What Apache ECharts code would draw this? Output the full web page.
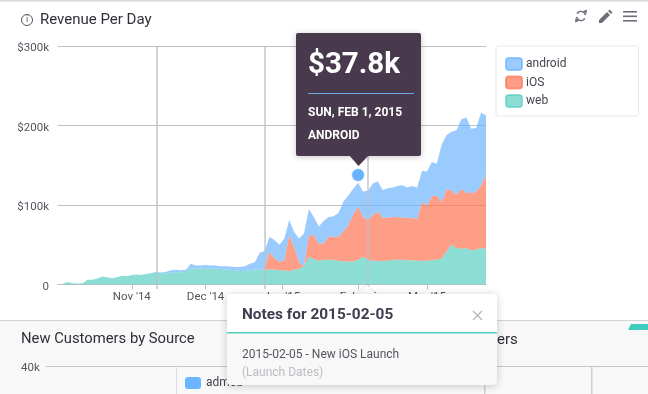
<!DOCTYPE html>
<html><head><meta charset="utf-8">
<style>html,body{margin:0;padding:0;background:#fff;overflow:hidden}#main{width:648px;height:394px}</style>
<script src="https://cdn.jsdelivr.net/npm/echarts@6/dist/echarts.min.js"></script>
</head><body><div id="main"></div>
<script>
// values in $k, one reading every two days from 2014-10-02
const startDate = '2014-10-02';
const web = [0,1,3.3,1.5,1.2,1.5,6,6,7.5,10,9,8,9,11,10.5,12,12.5,12,13,14,15.5,14,14,15,15.5,15,16,20,20,20,20.5,20,20,19.5,19,18.5,18,17,17,18,18.5,19,19,19,19,18,17.5,17,18.5,20,23,35,32,30,31,31,31,30,29,29,29,31,35,31,30,30,29.5,30,31,31,31,30.5,30.5,30,30,30,31,31,33,42,50,46,45,46,43,44,46,45];
const ios = [0,0,0,0,0,0,0,0,0,0,0,0,0,0,0,0,0,0,0,0,0,0,0,0,0,0,0,0,0,0,0,0,0,0,0,0,0,0,0,0,0,0,1,22,14,11,12.5,45,28.5,8,0,27,30,21,21,29,29,30,38,46,59,67,50,50,57,62,54.5,54,54,54,53,53.5,53.5,52,74,69,80,81,71,78,68,67,75,69,72,73,79,92];
const android = [0,0,0,0,0,0,0,0,0,0,0,0,0,0,0,0,0,0,.5,.5,.5,1,2,3,3,3,2.5,6,4,4,4,4,4,3.5,4,4,4,5,6,8,9.5,21,22,19,23,21,28,19,19,30,41,33,23,22,28,25,26,30,37,37,32,30,32,37,40,38,35,37,37,39,41,38,40,40,39,43,43,40,72,68,74,81,88,95,81,80,91,76];
const noteDates = ['2014-11-11','2014-12-25','2015-02-05'];
const monthTicks = ['2014-11-01','2014-12-01','2015-01-01','2015-02-01','2015-03-01'];
const monthLabels = ["Nov '14","Dec '14","Jan '15","Feb '15","Mar '15"];
const hoverPoint = ['2015-02-01', 137.7];
const yMax = 300;

const FONT = 'Roboto, sans-serif';
const C = {android:'#6DB5FF', ios:'#FF7554', web:'#5BD0C3'};
const dates = web.map((_, i) => {
  const d = new Date(startDate + 'T00:00:00'); d.setDate(d.getDate() + i * 2); return d.getTime();
});
const ts = s => new Date(s + 'T00:00:00').getTime();
const tickTimes = monthTicks.map(ts);
const pair = arr => arr.map((v, i) => [dates[i], v]);
const area = (name, color, arr) => ({
  name, type:'line', stack:'rev', data:pair(arr), symbol:'none', silent:true, xAxisIndex:0,
  lineStyle:{width:0}, itemStyle:{color, opacity:.7, borderColor:color, borderWidth:1}, areaStyle:{color, opacity:.7}, z:2
});
const text = (t, x, y, font, fill, extra) => ({type:'text', z:100, silent:true,
  style:Object.assign({text:t, x, y, font:font + ' ' + FONT, fill, verticalAlign:'middle'}, extra||{})});
const rect = (x, y, w, h, fill, r, extra, z) => ({type:'rect', z:z||100, silent:true,
  shape:{x, y, width:w, height:h, r:r||0}, style:Object.assign({fill}, extra||{})});
const ICON = '#6f6f7c';

const series = [
  area('web', C.web, web),
  area('iOS', C.ios, ios),
  area('android', C.android, android),
  {type:'scatter', xAxisIndex:0, data:[[ts(hoverPoint[0]), hoverPoint[1]]], symbolSize:13, silent:true, z:6,
   itemStyle:{color:'#6AB4FF', borderColor:'rgba(255,255,255,.8)', borderWidth:1, opacity:1}},
  {type:'line', xAxisIndex:0, data:[], silent:true, z:5, symbol:'none',
   markLine:{silent:true, symbol:'none', label:{show:false}, animation:false,
     lineStyle:{color:'rgba(185,192,200,.65)', width:2, type:'solid'},
     data:noteDates.map(d => [{xAxis:ts(d), y:46},{xAxis:ts(d), y:289}])}}
];

const chart = echarts.init(document.getElementById('main'));
chart.setOption({
  animation:false,
  backgroundColor:'#fff',
  textStyle:{fontFamily:FONT},
  grid:{left:58, top:46, width:428, height:238.5, containLabel:false},
  legend:{
    data:['android','iOS','web'], orient:'vertical', left:496, top:46,
    padding:[11,72,8,9], itemWidth:16, itemHeight:12, itemGap:4.5,
    icon:'roundRect', borderColor:'#e7e8ec', borderWidth:1, borderRadius:2,
    textStyle:{color:'#444450', fontSize:12, fontFamily:FONT, padding:[3,0,0,-1]},
    selectedMode:false
  },
  xAxis:[
    {type:'time', show:false, min:dates[0], max:dates[dates.length-1]},
    {type:'value', position:'bottom', min:dates[0], max:dates[dates.length-1], scale:true,
     axisLine:{show:true, lineStyle:{color:'#bcc0c5'}},
     axisTick:{show:true, length:5, customValues:tickTimes, lineStyle:{color:'#bcc0c5'}},
     splitLine:{show:false},
     axisLabel:{customValues:tickTimes, color:'#55555f', fontSize:11.5, margin:7, hideOverlap:false,
       formatter:v => monthLabels[tickTimes.indexOf(v)]}}
  ],
  yAxis:{type:'value', min:0, max:yMax, interval:100,
    axisLine:{show:false}, axisTick:{show:false},
    splitLine:{lineStyle:{color:'#bcc0c5', width:1}},
    axisLabel:{color:'#55555f', fontSize:11.5, margin:9, verticalAlign:'top', lineHeight:5,
      formatter:v => v === 0 ? '0' : '$' + v + 'k'}},
  series,
  graphic:[
    // top border
    rect(0,0,648,1.5,'#d5d8df',0,null,1),
    // lower panel
    rect(0,320,648,74,'#f8f8f9',0,null,50),
    rect(0,320,648,1,'#d2d4da',0,null,51),
    rect(46,366,602,1,'#c4c6cb',0,null,51),
    rect(176,366,1,28,'#dcdde1',0,null,51),
    rect(484,366,1.5,28,'#cdd0d6',0,null,51),
    rect(591,366,1.5,28,'#cdd0d6',0,null,51),
    {type:'polygon', z:51, silent:true, shape:{points:[[631,324],[648,324],[648,330],[628,330]]}, style:{fill:'#3fcdbf'}},
    text('New Customers by Source',21,339,'14.8px','#2f2f3a'),
    text('ers',497,340,'15px','#2f2f3a'),
    text('40k',21,368,'11.5px','#55555f'),
    rect(185,377,16,12,'#6cb5ff',3,null,52),
    text('admob',206,383,'12px','#444450',{}),
    // title
    {type:'circle', z:100, silent:true, shape:{cx:27,cy:20,r:5.5}, style:{fill:'none', stroke:'#55555f', lineWidth:1}},
    text('i',27,20,'9px','#55555f',{align:'center'}),
    text('Revenue Per Day',40,20,'15px','#2f2f3a'),
    // toolbar icons
    {type:'arc', z:100, silent:true, shape:{cx:581,cy:16,r:4.5,startAngle:-2.6,endAngle:-0.2}, style:{stroke:ICON, fill:'none', lineWidth:1.6}},
    {type:'arc', z:100, silent:true, shape:{cx:581,cy:16,r:4.5,startAngle:0.55,endAngle:2.95}, style:{stroke:ICON, fill:'none', lineWidth:1.6}},
    {type:'polygon', z:100, silent:true, shape:{points:[[583,11],[587,9.5],[586.5,14]]}, style:{fill:ICON}},
    {type:'polygon', z:100, silent:true, shape:{points:[[579,21],[575,22.5],[575.5,18]]}, style:{fill:ICON}},
    {type:'polygon', z:100, silent:true, shape:{points:[[599,20],[607,12],[610,15],[602,23],[599,23]]}, style:{fill:ICON}},
    {type:'polygon', z:100, silent:true, shape:{points:[[608,11],[609.5,9.5],[612.5,12.5],[611,14]]}, style:{fill:ICON}},
    rect(623,11,14,1.6,ICON), rect(623,15.5,14,1.6,ICON), rect(623,20,14,1.6,ICON),
    // hover tooltip
    rect(296,33,125,123,'#483a4c',2,{shadowBlur:6, shadowColor:'rgba(0,0,0,.22)', shadowOffsetY:1},110),
    {type:'polygon', z:111, silent:true, shape:{points:[[349,155],[369,155],[358.5,166]]}, style:{fill:'#483a4c'}},
    Object.assign(text('$37.8k',308,66,'bold 29.5px','#fff'),{z:112}),
    rect(308,93,106,1,'#6aa9e8',0,null,112),
    Object.assign(text('SUN, FEB 1, 2015',308,113,'bold 12px','#fff'),{z:112}),
    Object.assign(text('ANDROID',308,136,'bold 12px','#fff'),{z:112}),
    // notes popup
    {type:'polygon', z:119, silent:true, shape:{points:[[357,295],[377,295],[367,285]]}, style:{fill:'#fff', shadowBlur:3, shadowColor:'rgba(0,0,0,.15)'}},
    rect(227,294,270,91,'#f8f8f9',4,{shadowBlur:8, shadowColor:'rgba(0,0,0,.2)', shadowOffsetY:1},120),
    {type:'rect', z:121, silent:true, shape:{x:227,y:294,width:270,height:38,r:[4,4,0,0]}, style:{fill:'#fff'}},
    rect(227,332,270,1.5,'#4fcfc0',0,null,122),
    Object.assign(text('Notes for 2015-02-05',242,315,'bold 15.4px','#3f3d50'),{z:122}),
    {type:'line', z:122, silent:true, shape:{x1:473,y1:311,x2:482,y2:320}, style:{stroke:'#b5b5bb', lineWidth:1.2}},
    {type:'line', z:122, silent:true, shape:{x1:482,y1:311,x2:473,y2:320}, style:{stroke:'#b5b5bb', lineWidth:1.2}},
    Object.assign(text('2015-02-05 - New iOS Launch',242,355,'12px','#55555f'),{z:122}),
    Object.assign(text('(Launch Dates)',242,373,'12px','#bdbdc2'),{z:122})
  ]
});
</script></body></html>
